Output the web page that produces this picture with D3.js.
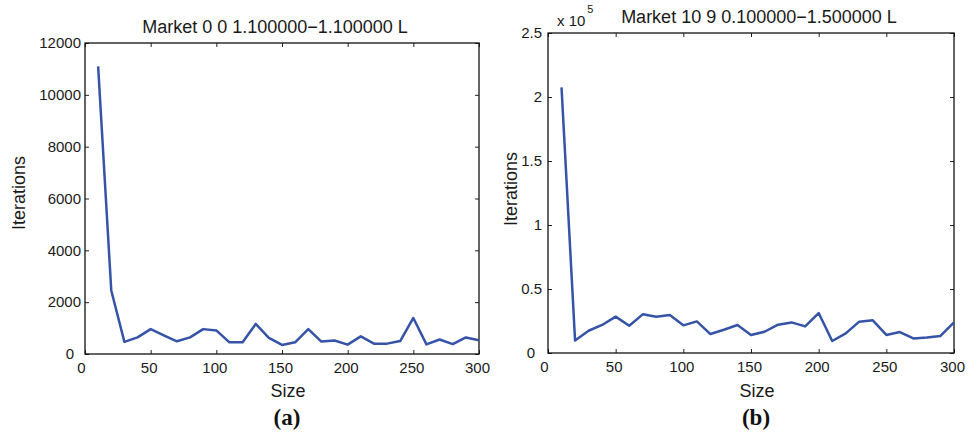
<!DOCTYPE html>
<html>
<head>
<meta charset="utf-8">
<script src="https://cdn.jsdelivr.net/npm/d3@7"></script>
<style>
  body { margin: 0; background: #fff; }
  svg { font-family: "Liberation Sans", Arial, sans-serif; }
  .label { font-weight: bold; font-family: "Liberation Serif", "DejaVu Serif", serif; }
</style>
</head>
<body>
<svg id="drawing_region"></svg>
<script>
// problem sizes (same for both panels)
const sizes = [10, 20, 30, 40, 50, 60, 70, 80, 90, 100, 110, 120, 130, 140, 150,
               160, 170, 180, 190, 200, 210, 220, 230, 240, 250, 260, 270, 280, 290, 300];

// (a) iterations
const iterA = [11100, 2450, 470, 640, 960, 720, 490, 640, 960, 910, 450, 450, 1160, 620, 350,
               450, 960, 480, 520, 360, 680, 400, 400, 500, 1390, 370, 560, 380, 640, 530];

// (b) iterations, in units of 1e5
const iterB = [2.075, 0.098, 0.174, 0.219, 0.284, 0.213, 0.302, 0.284, 0.297, 0.216, 0.247, 0.148, 0.182, 0.219, 0.141,
               0.166, 0.221, 0.239, 0.208, 0.312, 0.094, 0.153, 0.245, 0.255, 0.141, 0.164, 0.114, 0.122, 0.133, 0.239];

const xTicks = [0, 50, 100, 150, 200, 250, 300];
const yTicksA = [0, 2000, 4000, 6000, 8000, 10000, 12000];
const yTicksB = [0, 0.5, 1, 1.5, 2, 2.5];

const svg = d3.select('#drawing_region')
    .attr('width', 968)
    .attr('height', 437);

function drawPanel(cfg, xs, ys) {
    const g = svg.append('g');
    const xscale = d3.scaleLinear().domain([0, 300]).range([cfg.left, cfg.right]);
    const yscale = d3.scaleLinear().domain(cfg.ydomain).range([cfg.bottom, cfg.top]);

    // bottom / top
    g.append('g')
        .attr('transform', `translate(0, ${cfg.bottom})`)
        .call(d3.axisBottom(xscale).tickValues(xTicks).tickSizeInner(-4).tickSizeOuter(0).tickPadding(8))
        .call(a => a.select('.domain').remove())
        .call(a => a.selectAll('.tick text').attr('dx', -2))
        .call(a => a.selectAll('.tick').filter(d => d === 0).select('text').attr('dx', -4));
    g.append('g')
        .attr('transform', `translate(0, ${cfg.top})`)
        .call(d3.axisTop(xscale).tickValues(xTicks).tickSizeInner(-4).tickSizeOuter(0).tickFormat(''))
        .call(a => a.select('.domain').remove());
    // left / right
    g.append('g')
        .attr('transform', `translate(${cfg.left}, 0)`)
        .call(d3.axisLeft(yscale).tickValues(cfg.yticks).tickSizeInner(-4).tickSizeOuter(0).tickPadding(cfg.ypad).tickFormat(cfg.fmt))
        .call(a => a.select('.domain').remove())
        .call(a => a.selectAll('.tick').filter(d => d === 0).select('text').attr('dx', -7));
    g.append('g')
        .attr('transform', `translate(${cfg.right}, 0)`)
        .call(d3.axisRight(yscale).tickValues(cfg.yticks).tickSizeInner(-4).tickSizeOuter(0).tickFormat(''))
        .call(a => a.select('.domain').remove());

    g.selectAll('.tick line').attr('stroke', '#222');
    g.selectAll('.tick text').attr('font-size', '15px').attr('font-family', '"Liberation Sans", Arial, sans-serif').attr('fill', '#1a1a1a');

    // frame
    g.append('rect')
        .attr('x', cfg.left).attr('y', cfg.top)
        .attr('width', cfg.right - cfg.left).attr('height', cfg.bottom - cfg.top)
        .attr('fill', 'none').attr('stroke', '#111').attr('stroke-width', 1.3);

    const line = d3.line()
        .x((d, i) => xscale(xs[i]))
        .y(d => yscale(d));

    g.append('path')
        .datum(ys)
        .attr('d', line)
        .attr('fill', 'none')
        .attr('stroke', '#3553a7')
        .attr('stroke-width', 2.5)
        .attr('stroke-linejoin', 'round');

    // texts
    g.append('text')
        .attr('x', cfg.titleX).attr('y', cfg.titleY)
        .attr('text-anchor', 'middle').attr('font-size', '18px').attr('fill', '#1a1a1a')
        .text(cfg.title);
    g.append('text')
        .attr('transform', `translate(${cfg.ylabelX}, ${cfg.ylabelY}) rotate(-90)`)
        .attr('text-anchor', 'middle').attr('font-size', '18px').attr('fill', '#1a1a1a')
        .text('Iterations');
    g.append('text')
        .attr('x', cfg.sizeX).attr('y', 397)
        .attr('text-anchor', 'middle').attr('font-size', '18px').attr('fill', '#1a1a1a')
        .text('Size');
    g.append('text')
        .attr('class', 'label')
        .attr('x', cfg.sizeX - 1).attr('y', 425)
        .attr('text-anchor', 'middle').attr('font-size', '23px').attr('fill', '#111')
        .text(cfg.label);

    return g;
}

drawPanel({
    left: 85, right: 479, top: 43, bottom: 354, ypad: 4,
    ydomain: [0, 12000], yticks: yTicksA, fmt: d3.format('d'),
    title: 'Market 0 0 1.100000\u22121.100000 L', titleX: 275, titleY: 33,
    ylabelX: 25, ylabelY: 193, sizeX: 288, label: '(a)'
}, sizes, iterA);

const gb = drawPanel({
    left: 548, right: 954, top: 33, bottom: 353, ypad: 6,
    ydomain: [0, 2.5], yticks: yTicksB, fmt: d => Number.isInteger(d) ? String(d) : d3.format('.1f')(d),
    title: 'Market 10 9 0.100000\u22121.500000 L', titleX: 759, titleY: 23,
    ylabelX: 517, ylabelY: 189, sizeX: 757, label: '(b)'
}, sizes, iterB);

// exponent marker
const expo = gb.append('text')
    .attr('x', 557).attr('y', 26)
    .attr('font-size', '15px').attr('fill', '#1a1a1a');
expo.append('tspan').text('x 10');
expo.append('tspan').attr('dy', -13).attr('dx', 2).attr('font-size', '11px').text('5');
</script>
</body>
</html>
